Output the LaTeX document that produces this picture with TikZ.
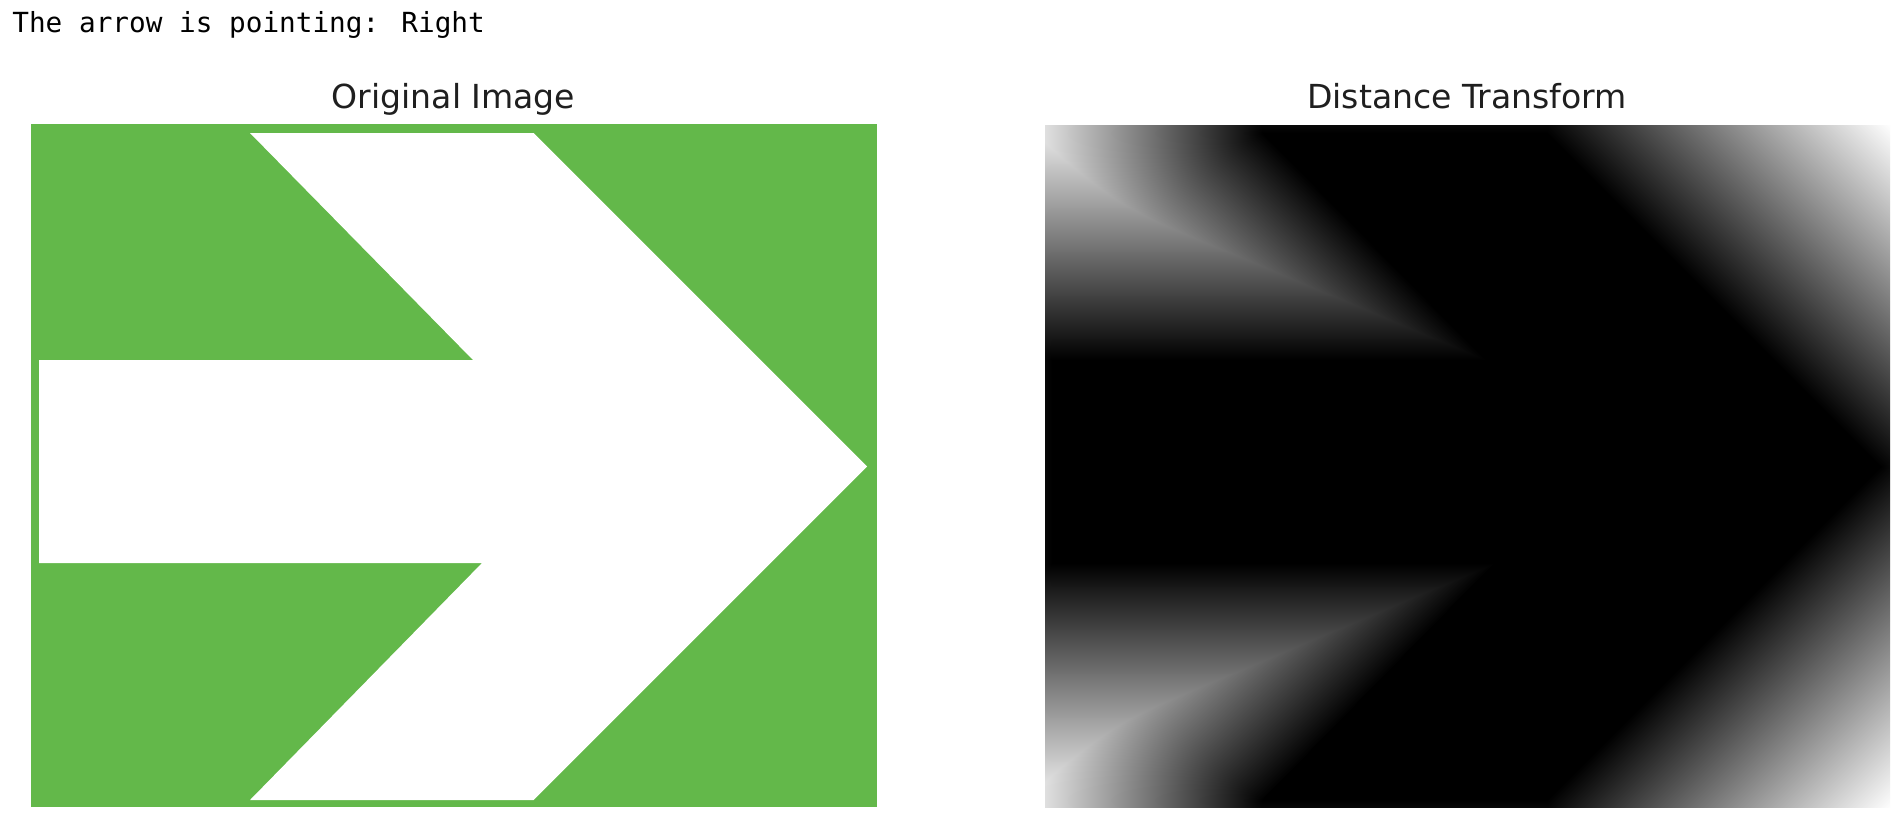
\documentclass[tikz,border=0pt]{standalone}
\usepackage{fontspec}
\setmainfont{DejaVu Sans}
\newfontfamily\monofnt{DejaVu Sans Mono}
\definecolor{imggreen}{RGB}{99,184,74}

% distance transform of the arrow: u,v in image pixels (v downwards)
\pgfdeclarefunctionalshading{dtshade}{\pgfpoint{0bp}{0bp}}{\pgfpoint{423bp}{341.5bp}}{}{
exch 2 mul exch 2 mul neg 683 add 1000000
2 index 219 sub 2 index 9 sub 1 index 283.5 mul 1 index 0 mul add 80372.25 div dup 0 lt {pop 0} if dup 1 gt {pop 1} if dup 0 mul 3 -1 roll exch sub exch 283.5 mul 3 -1 roll exch sub dup mul exch dup mul add 2 copy gt {exch} if pop
2 index 502.5 sub 2 index 9 sub 1 index 333.5 mul 1 index 333.5 mul add 222444.5 div dup 0 lt {pop 0} if dup 1 gt {pop 1} if dup 333.5 mul 3 -1 roll exch sub exch 333.5 mul 3 -1 roll exch sub dup mul exch dup mul add 2 copy gt {exch} if pop
2 index 836 sub 2 index 342.5 sub 1 index -333.5 mul 1 index 333.5 mul add 222444.5 div dup 0 lt {pop 0} if dup 1 gt {pop 1} if dup 333.5 mul 3 -1 roll exch sub exch -333.5 mul 3 -1 roll exch sub dup mul exch dup mul add 2 copy gt {exch} if pop
2 index 502.5 sub 2 index 676 sub 1 index -283.5 mul 1 index 0 mul add 80372.25 div dup 0 lt {pop 0} if dup 1 gt {pop 1} if dup 0 mul 3 -1 roll exch sub exch -283.5 mul 3 -1 roll exch sub dup mul exch dup mul add 2 copy gt {exch} if pop
2 index 219 sub 2 index 676 sub 1 index 232 mul 1 index -237 mul add 109993 div dup 0 lt {pop 0} if dup 1 gt {pop 1} if dup -237 mul 3 -1 roll exch sub exch 232 mul 3 -1 roll exch sub dup mul exch dup mul add 2 copy gt {exch} if pop
2 index 451 sub 2 index 439 sub 1 index -443 mul 1 index 0 mul add 196249 div dup 0 lt {pop 0} if dup 1 gt {pop 1} if dup 0 mul 3 -1 roll exch sub exch -443 mul 3 -1 roll exch sub dup mul exch dup mul add 2 copy gt {exch} if pop
2 index 8 sub 2 index 439 sub 1 index 0 mul 1 index -203 mul add 41209 div dup 0 lt {pop 0} if dup 1 gt {pop 1} if dup -203 mul 3 -1 roll exch sub exch 0 mul 3 -1 roll exch sub dup mul exch dup mul add 2 copy gt {exch} if pop
2 index 8 sub 2 index 236 sub 1 index 434 mul 1 index 0 mul add 188356 div dup 0 lt {pop 0} if dup 1 gt {pop 1} if dup 0 mul 3 -1 roll exch sub exch 434 mul 3 -1 roll exch sub dup mul exch dup mul add 2 copy gt {exch} if pop
2 index 442 sub 2 index 236 sub 1 index -223 mul 1 index -227 mul add 101258 div dup 0 lt {pop 0} if dup 1 gt {pop 1} if dup -227 mul 3 -1 roll exch sub exch -223 mul 3 -1 roll exch sub dup mul exch dup mul add 2 copy gt {exch} if pop
sqrt 249.3 div dup 1 gt {pop 1} if 3 1 roll pop pop dup dup
}

\begin{document}
\begin{tikzpicture}[x=0.5bp,y=-0.5bp,
  paneltitle/.style={anchor=base, inner sep=0, font=\fontsize{16.6}{20}\selectfont, text=black!88},
  headline/.style={anchor=base west, inner sep=0, font=\monofnt\fontsize{13.9}{16}\selectfont}]
\useasboundingbox (0,0) rectangle (1904,822);
\fill[white] (0,0) rectangle (1904,822);

\node[headline] (hdr) at (12,32) {The arrow is pointing: Right};
\node[paneltitle] (t1) at (453.5,108) {Original Image};
\node[paneltitle] (t2) at (1467,108) {Distance Transform};

% original image
\fill[imggreen] (31,124) rectangle (877,807);
\fill[white] (250,133) -- (533.5,133) -- (867,466.5) -- (533.5,800) -- (250,800)
  -- (482,563) -- (39,563) -- (39,360) -- (473,360) -- cycle;

% distance transform
\node[inner sep=0, outer sep=0, anchor=north west] (dt) at (1044,124) {\pgfuseshading{dtshade}};
\fill[black] (1263,133) -- (1546.5,133) -- (1880,466.5) -- (1546.5,800) -- (1263,800)
  -- (1495,563) -- (1052,563) -- (1052,360) -- (1486,360) -- cycle;
\end{tikzpicture}
\end{document}
